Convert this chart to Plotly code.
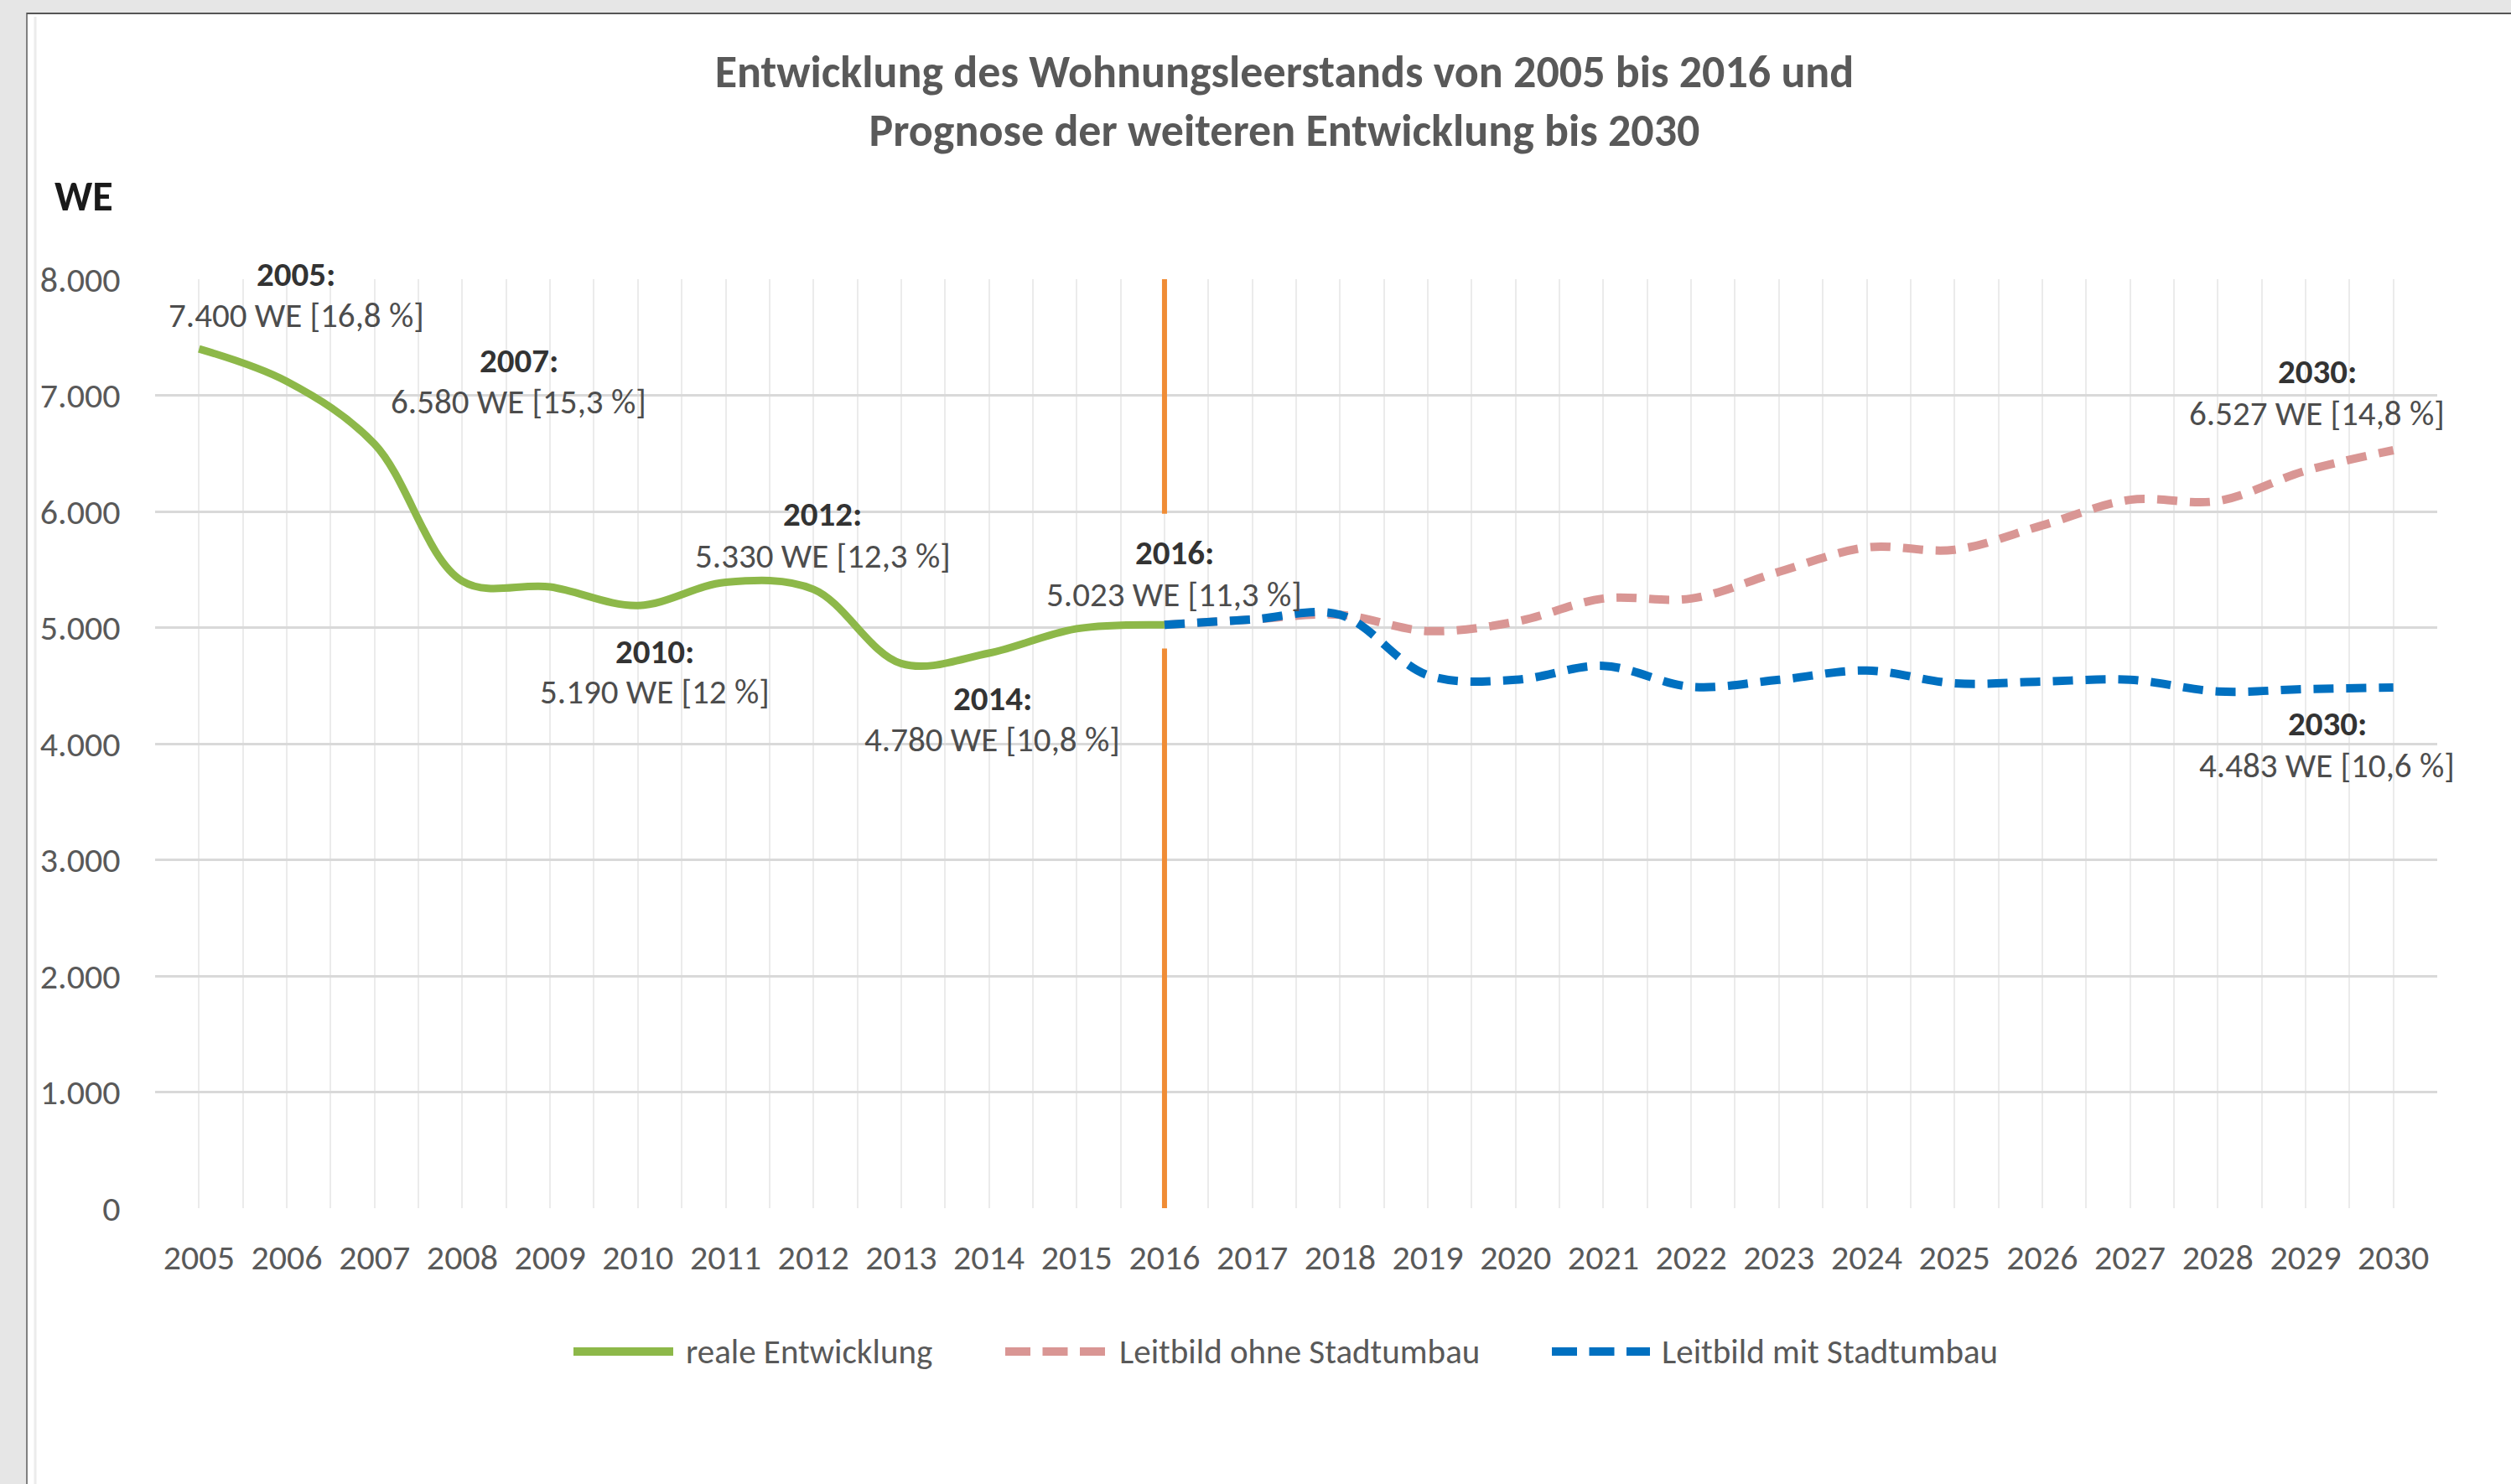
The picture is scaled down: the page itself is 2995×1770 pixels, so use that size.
import plotly.graph_objects as go

# ---------------- data ----------------
years_real = [2005, 2006, 2007, 2008, 2009, 2010, 2011, 2012, 2013, 2014, 2015, 2016]
vals_real = [7400, 7120, 6580, 5400, 5350, 5190, 5390, 5330, 4690, 4780, 4990, 5023]

years_prog = [2016, 2017, 2018, 2019, 2020, 2021, 2022, 2023, 2024, 2025, 2026, 2027, 2028, 2029, 2030]
vals_ohne = [5023, 5070, 5110, 4970, 5050, 5250, 5250, 5480, 5690, 5670, 5880, 6100, 6090, 6350, 6527]
vals_mit = [5023, 5070, 5110, 4590, 4550, 4670, 4490, 4550, 4630, 4520, 4535, 4550, 4450, 4470, 4483]

series_names = ["reale Entwicklung", "Leitbild ohne Stadtumbau", "Leitbild mit Stadtumbau"]
series_colors = ["#8db849", "#d99694", "#0070c0"]

tick_years = list(range(2005, 2031))
y_ticks = [0, 1000, 2000, 3000, 4000, 5000, 6000, 7000, 8000]
y_tick_text = ["0", "1.000", "2.000", "3.000", "4.000", "5.000", "6.000", "7.000", "8.000"]

# orange marker line at 2016 (with a gap for the label)
marker_year = 2016
marker_upper = [8000, 5980]
marker_lower = [4820, 0]

# labels: (year, value, bold head, text)
labels = [
    (2005, 7400, "2005:", "7.400 WE [16,8 %]"),
    (2007, 6580, "2007:", "6.580 WE [15,3 %]"),
    (2010, 5190, "2010:", "5.190 WE [12 %]"),
    (2012, 5330, "2012:", "5.330 WE [12,3 %]"),
    (2014, 4780, "2014:", "4.780 WE [10,8 %]"),
    (2016, 5023, "2016:", "5.023 WE [11,3 %]"),
    (2030, 6527, "2030:", "6.527 WE [14,8 %]"),
    (2030, 4483, "2030:", "4.483 WE [10,6 %]"),
]
# label offsets in px relative to the data point: (dx, dy_head, dy_text)
label_offsets = [
    (116, 89, 40),
    (172, 100, 51),
    (20, -55, -103),
    (11, 90, 40),
    (4, -54, -103),
    (12, 86, 36),
    (-91, 94, 44),
    (-79, -43, -93),
]

FONT = "Calibri, Carlito, Lato, sans-serif"
W, H = 2995, 1770
L, R, T, B = 185, 2907, 333, 1441  # plot area in px


def px_x(px):
    return (px - L) / (R - L)


def px_y(py):
    return (B - py) / (B - T)


fig = go.Figure()

fig.add_trace(go.Scatter(
    x=years_real, y=vals_real, mode="lines", name=series_names[0], showlegend=False,
    line=dict(color=series_colors[0], width=9, shape="spline", smoothing=1.0),
))
fig.add_trace(go.Scatter(
    x=years_prog, y=vals_ohne, mode="lines", name=series_names[1], showlegend=False,
    line=dict(color=series_colors[1], width=10, shape="spline", smoothing=1.0, dash="24px,15px"),
))
fig.add_trace(go.Scatter(
    x=years_prog, y=vals_mit, mode="lines", name=series_names[2], showlegend=False,
    line=dict(color=series_colors[2], width=10, shape="spline", smoothing=1.0, dash="24px,15px"),
))
fig.add_trace(go.Scatter(
    x=[marker_year, marker_year, None, marker_year, marker_year],
    y=marker_upper + [None] + marker_lower,
    mode="lines", showlegend=False, hoverinfo="skip", connectgaps=False,
    line=dict(color="#f08c35", width=6),
))

for (yr, v, head, txt), (dx, dyh, dyt) in zip(labels, label_offsets):
    fig.add_annotation(
        x=yr, y=v, xref="x", yref="y", showarrow=False,
        text=f"<b>{head}</b>", xshift=dx, yshift=dyh,
        xanchor="center", yanchor="middle",
        font=dict(family=FONT, size=41, color="#333333"),
    )
    fig.add_annotation(
        x=yr, y=v, xref="x", yref="y", showarrow=False,
        text=txt, xshift=dx, yshift=dyt,
        xanchor="center", yanchor="middle",
        font=dict(family=FONT, size=41, color="#4d4d4d"),
    )

# Y-axis unit label
fig.add_annotation(
    x=px_x(100), y=px_y(233), xref="paper", yref="paper", showarrow=False,
    text="<b>WE</b>", font=dict(family=FONT, size=50, color="#1a1a1a"),
    xanchor="center", yanchor="middle",
)

# frame of screenshot: gray bands left and top
shapes = [
    dict(type="rect", xref="paper", yref="paper", x0=px_x(0), x1=px_x(31), y0=px_y(H), y1=px_y(0),
         fillcolor="#e6e6e6", line=dict(width=0), layer="below"),
    dict(type="rect", xref="paper", yref="paper", x0=px_x(0), x1=px_x(W), y0=px_y(15), y1=px_y(0),
         fillcolor="#e6e6e6", line=dict(width=0), layer="below"),
    dict(type="line", xref="paper", yref="paper", x0=px_x(32), x1=px_x(32), y0=px_y(H), y1=px_y(15),
         line=dict(color="#808080", width=2), layer="below"),
    dict(type="line", xref="paper", yref="paper", x0=px_x(32), x1=px_x(W), y0=px_y(16), y1=px_y(16),
         line=dict(color="#555555", width=2), layer="below"),
    dict(type="line", xref="paper", yref="paper", x0=px_x(42), x1=px_x(42), y0=px_y(H), y1=px_y(20),
         line=dict(color="#ececec", width=3), layer="below"),
]

# legend (drawn manually to match the long sample lines)
legend_y = px_y(1612)
legend_items = [
    (684, 803, 816, None),
    (1199, 1318, 1333, "30px,14.5px"),
    (1851, 1968, 1980, "30px,14.5px"),
]
for (x0, x1, xt, dash), name, col in zip(legend_items, series_names, series_colors):
    ln = dict(color=col, width=10)
    if dash:
        ln["dash"] = dash
    shapes.append(dict(type="line", xref="paper", yref="paper",
                       x0=px_x(x0), x1=px_x(x1), y0=legend_y, y1=legend_y, line=ln))
    fig.add_annotation(
        x=px_x(xt), y=legend_y, xref="paper", yref="paper", showarrow=False,
        text=name, xanchor="left", yanchor="middle",
        font=dict(family=FONT, size=41, color="#595959"),
    )

fig.update_layout(
    width=W, height=H,
    margin=dict(l=L, r=W - R, t=T, b=H - B, pad=0),
    paper_bgcolor="white", plot_bgcolor="white",
    shapes=shapes,
    title=dict(
        text="<b>Entwicklung des Wohnungsleerstands von 2005 bis 2016 und<br>Prognose der weiteren Entwicklung bis 2030</b>",
        x=1532 / W, xref="container", xanchor="center",
        y=1 - 104 / H, yref="container", yanchor="middle",
        font=dict(family=FONT, size=54, color="#595959"),
    ),
    font=dict(family=FONT, color="#595959"),
    showlegend=False,
    xaxis=dict(
        range=[2004.5, 2030.5], tickmode="array", tickvals=tick_years,
        ticktext=[str(y) for y in tick_years],
        tickfont=dict(family=FONT, size=42, color="#595959"),
        showgrid=True, gridcolor="#ebebeb", gridwidth=2,
        minor=dict(tickmode="linear", tick0=2004.5, dtick=1, showgrid=True, gridcolor="#ebebeb", gridwidth=2),
        ticks="outside", ticklen=22, tickcolor="rgba(0,0,0,0)",
        zeroline=False, showline=False, fixedrange=True,
    ),
    yaxis=dict(
        range=[0, 8000], tickmode="array", tickvals=y_ticks, ticktext=y_tick_text,
        tickfont=dict(family=FONT, size=42, color="#595959"),
        showgrid=True, gridcolor="#d9d9d9", gridwidth=3,
        ticks="outside", ticklen=32, tickcolor="rgba(0,0,0,0)",
        zeroline=False, showline=False, fixedrange=True,
    ),
)

fig.write_html(
    "out.html",
    config={"displayModeBar": False},
    post_script="document.body.style.margin='0';document.body.style.overflow='hidden';",
)
